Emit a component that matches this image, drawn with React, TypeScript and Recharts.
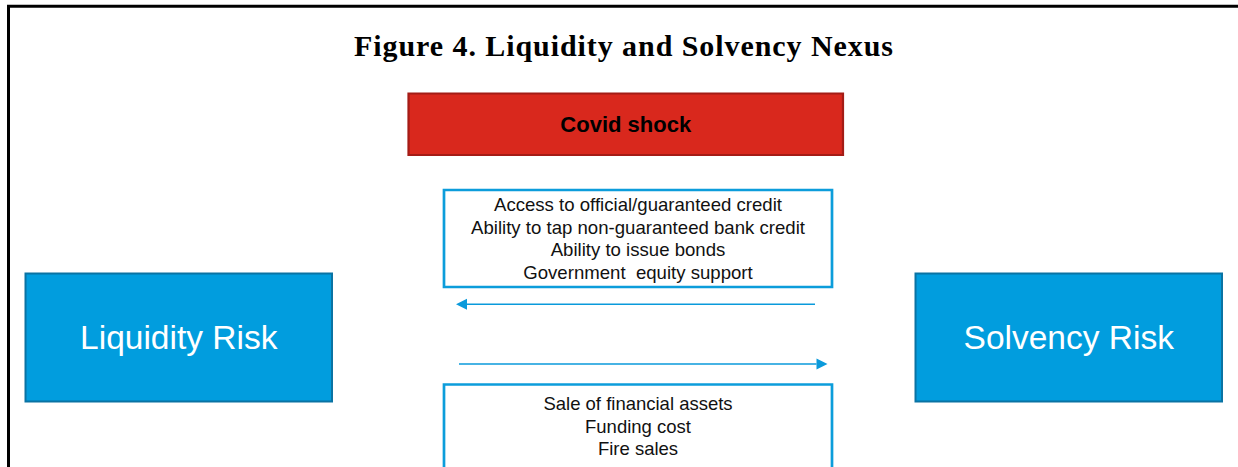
import React from 'react';
import { ComposedChart, XAxis, YAxis, ReferenceArea, ReferenceLine, Label } from 'recharts';

// ---- content (text) ----
const titleText = 'Figure 4. Liquidity and Solvency Nexus';
const shockLabel = 'Covid shock';
const leftNodeLabel = 'Liquidity Risk';
const rightNodeLabel = 'Solvency Risk';
const upperChannels = [
  'Access to official/guaranteed credit',
  'Ability to tap non-guaranteed bank credit',
  'Ability to issue bonds',
  'Government  equity support',
];
const lowerChannels = ['Sale of financial assets', 'Funding cost', 'Fire sales'];

// ---- layout (diagram coordinates, mapped by the axes' scales) ----
const W = 1238;
const H = 467;
const frame = { top: 6.3, left: 8.5, width: 3 };
const titleBox = { x1: 354, x2: 893, y1: 20, y2: 62, baseline: 35.5 };
const shockBox = { x1: 408.5, x2: 843, y1: 93.5, y2: 155 };
const upperBox = { x1: 444, x2: 832, y1: 190, y2: 287, first: 21, step: 22.5 };
const lowerBox = { x1: 444, x2: 832, y1: 384.5, y2: 472, first: 25.5, step: 22.5 };
const leftBox = { x1: 25.5, x2: 332, y1: 273.5, y2: 401.5 };
const rightBox = { x1: 915.5, x2: 1222, y1: 273.5, y2: 401.5 };
const backArrow = { from: 815, to: 456, y: 304.3 };
const fwdArrow = { from: 459, to: 827.5, y: 364 };

const SANS = '"Liberation Sans", Arial, Helvetica, sans-serif';
const SERIF = '"Liberation Serif", "Times New Roman", Times, serif';
const ARROW = '#0A9ADB';

const arrowShape = (p: any) => {
  const { x1, y1, x2, y2 } = p;
  const dir = Math.sign(x2 - x1) || 1;
  const head = 11;
  const half = 5.5;
  const bx = x2 - dir * head;
  return (
    <g>
      <line x1={x1} y1={y1} x2={bx} y2={y2} stroke={ARROW} strokeWidth={1.5} />
      <polygon points={`${x2},${y2} ${bx},${y2 - half} ${bx},${y2 + half}`} fill={ARROW} />
    </g>
  );
};

const centeredText = (text: string, size: number, color: string, weight: string, baselineShift: number) =>
  (props: any) => {
    const vb = props.viewBox || {};
    const cx = vb.x + vb.width / 2;
    const cy = vb.y + vb.height / 2;
    return (
      <text x={cx} y={cy + baselineShift} textAnchor="middle" fill={color}
        style={{ fontFamily: SANS, fontSize: size, fontWeight: weight as any }}>
        {text}
      </text>
    );
  };

const linesText = (items: string[], first: number, step: number, size: number) =>
  (props: any) => {
    const vb = props.viewBox || {};
    const cx = vb.x + vb.width / 2;
    return (
      <text textAnchor="middle" fill="#111"
        style={{ fontFamily: SANS, fontSize: size, whiteSpace: 'pre' }}>
        {items.map((t, i) => (
          <tspan key={i} x={cx} y={vb.y + first + i * step}>{t}</tspan>
        ))}
      </text>
    );
  };

const titleContent = (props: any) => {
  const vb = props.viewBox || {};
  return (
    <text x={vb.x} y={vb.y + titleBox.baseline} textLength={titleBox.x2 - titleBox.x1}
      lengthAdjust="spacing" fill="#000"
      style={{ fontFamily: SERIF, fontSize: 30, fontWeight: 700 }}>
      {titleText}
    </text>
  );
};

export default function App() {
  return (
    <div style={{ position: 'absolute', left: 0, top: 0, width: W, height: H, background: '#fff' }}>
      <ComposedChart width={W} height={H} data={[]} margin={{ top: 0, right: 0, bottom: 0, left: 0 }}>
        <XAxis type="number" dataKey="x" domain={[0, W]} allowDataOverflow hide />
        <YAxis type="number" dataKey="y" domain={[0, H]} allowDataOverflow reversed hide />

        {/* outer frame (top and left edges) */}
        <ReferenceLine segment={[{ x: 7, y: frame.top }, { x: W, y: frame.top }]} stroke="#000"
          strokeWidth={frame.width} ifOverflow="visible" />
        <ReferenceLine segment={[{ x: frame.left, y: 5 }, { x: frame.left, y: H }]} stroke="#000"
          strokeWidth={frame.width} ifOverflow="visible" />

        {/* title */}
        <ReferenceArea x1={titleBox.x1} x2={titleBox.x2} y1={titleBox.y1} y2={titleBox.y2}
          fill="none" stroke="none" ifOverflow="visible">
          <Label content={titleContent} />
        </ReferenceArea>

        {/* shock */}
        <ReferenceArea x1={shockBox.x1} x2={shockBox.x2} y1={shockBox.y1} y2={shockBox.y2}
          fill="#D9281D" fillOpacity={1} stroke="#A41C16" strokeWidth={2.2} ifOverflow="visible">
          <Label content={centeredText(shockLabel, 22, '#000', '700', 7.5)} />
        </ReferenceArea>

        {/* upper channels */}
        <ReferenceArea x1={upperBox.x1} x2={upperBox.x2} y1={upperBox.y1} y2={upperBox.y2}
          fill="#fff" fillOpacity={1} stroke="#0C9DDB" strokeWidth={2.7} ifOverflow="visible">
          <Label content={linesText(upperChannels, upperBox.first, upperBox.step, 18.6)} />
        </ReferenceArea>

        {/* lower channels */}
        <ReferenceArea x1={lowerBox.x1} x2={lowerBox.x2} y1={lowerBox.y1} y2={lowerBox.y2}
          fill="#fff" fillOpacity={1} stroke="#0C9DDB" strokeWidth={2.7} ifOverflow="visible">
          <Label content={linesText(lowerChannels, lowerBox.first, lowerBox.step, 18.5)} />
        </ReferenceArea>

        {/* risk nodes */}
        <ReferenceArea x1={leftBox.x1} x2={leftBox.x2} y1={leftBox.y1} y2={leftBox.y2}
          fill="#019DDE" fillOpacity={1} stroke="#0A73A3" strokeWidth={2} ifOverflow="visible">
          <Label content={centeredText(leftNodeLabel, 33.5, '#fff', '400', 11.5)} />
        </ReferenceArea>
        <ReferenceArea x1={rightBox.x1} x2={rightBox.x2} y1={rightBox.y1} y2={rightBox.y2}
          fill="#019DDE" fillOpacity={1} stroke="#0A73A3" strokeWidth={2} ifOverflow="visible">
          <Label content={centeredText(rightNodeLabel, 33.5, '#fff', '400', 11.5)} />
        </ReferenceArea>

        {/* arrows */}
        <ReferenceLine segment={[{ x: backArrow.from, y: backArrow.y }, { x: backArrow.to, y: backArrow.y }]}
          shape={arrowShape} ifOverflow="visible" />
        <ReferenceLine segment={[{ x: fwdArrow.from, y: fwdArrow.y }, { x: fwdArrow.to, y: fwdArrow.y }]}
          shape={arrowShape} ifOverflow="visible" />
      </ComposedChart>
    </div>
  );
}
